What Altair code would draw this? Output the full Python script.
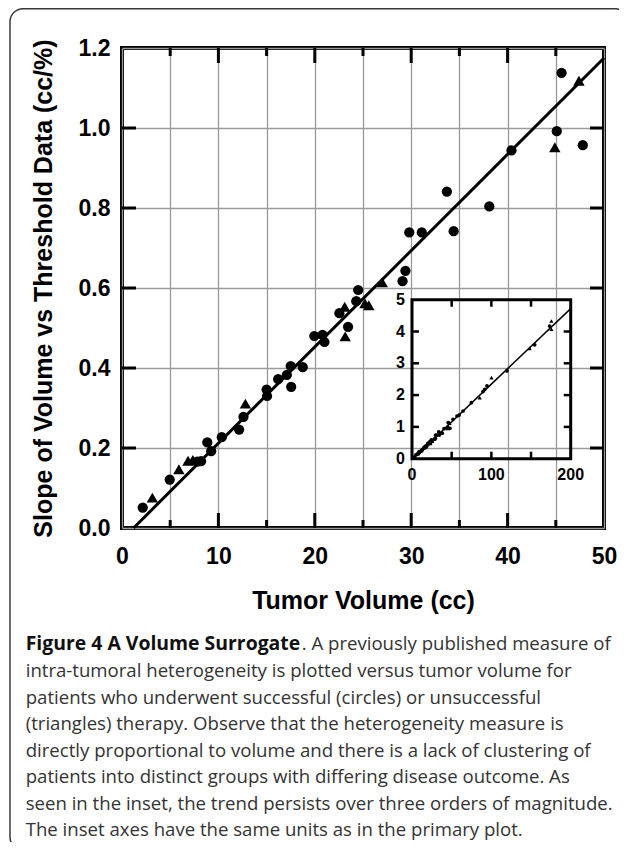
import altair as alt
import pandas as pd

# ---------------- data ----------------
circ_x = [2.15, 4.95, 7.8, 8.2, 8.85, 9.25, 10.35, 12.15, 12.6, 15.0, 15.05, 16.2, 17.1, 17.5,
          17.55, 18.75, 19.95, 20.8, 21.0, 22.55, 23.45, 24.3, 24.5, 29.1, 29.4, 29.8, 31.1,
          33.7, 34.4, 38.1, 40.4, 45.1, 45.6, 47.8]
circ_y = [0.051, 0.121, 0.166, 0.167, 0.214, 0.192, 0.227, 0.246, 0.278, 0.346, 0.330, 0.372,
          0.383, 0.405, 0.353, 0.402, 0.480, 0.483, 0.465, 0.537, 0.503, 0.567, 0.595, 0.617,
          0.643, 0.739, 0.739, 0.841, 0.742, 0.804, 0.944, 0.992, 1.138, 0.957]
tri_x = [3.15, 5.9, 6.85, 7.35, 12.8, 23.1, 23.15, 25.2, 25.6, 27.0, 44.9, 47.4]
tri_y = [0.076, 0.147, 0.168, 0.170, 0.311, 0.553, 0.479, 0.562, 0.557, 0.614, 0.952, 1.118]
fit_x = [1.2, 50.0]
fit_y = [0.0, 1.175]

# extra (large-volume) patients visible only in the inset
ins_circ_x = [51.7, 56.7, 59.2, 64.3, 74.8, 89.5, 91.6, 94.5, 119.7, 154.6, 173.5]
ins_circ_y = [1.24, 1.34, 1.37, 1.50, 1.76, 2.11, 2.18, 2.29, 2.76, 3.58, 4.17]
ins_tri_x = [85.3, 100.1, 148.3, 175.7, 175.7]
ins_tri_y = [1.92, 2.55, 3.47, 4.07, 4.33]
ins_fit_x = [1.2, 200.0]
ins_fit_y = [0.0, 4.72]

# axes
x_dom = [0, 50]
y_dom = [0, 1.2]
x_grid = [0, 5, 10, 15, 20, 25, 30, 35, 40, 45, 50]
x_major = [10, 20, 30, 40]
x_minor = [5, 15, 25, 35, 45]
y_ticks = [0.0, 0.2, 0.4, 0.6, 0.8, 1.0, 1.2]
y_major = [0.2, 0.4, 0.6, 0.8, 1.0]

ins_x_dom = [0, 200]
ins_y_dom = [0, 5]
ins_x_labels = [0, 100, 200]
ins_x_ticks = [50, 100, 150]
ins_y_labels = [0, 1, 2, 3, 4, 5]
ins_y_ticks = [1, 2, 3, 4]

x_title = "Tumor Volume (cc)"
y_title = "Slope of Volume vs Threshold Data (cc/%)"
cap_bold = "Figure 4 A Volume Surrogate"
cap_first_rest = ". A previously published measure of"
cap_lines = [
    "intra-tumoral heterogeneity is plotted versus tumor volume for",
    "patients who underwent successful (circles) or unsuccessful",
    "(triangles) therapy. Observe that the heterogeneity measure is",
    "directly proportional to volume and there is a lack of clustering of",
    "patients into distinct groups with differing disease outcome. As",
    "seen in the inset, the trend persists over three orders of magnitude.",
    "The inset axes have the same units as in the primary plot.",
]

FONT = "Liberation Sans"
CAPFONT = "Open Sans"
W, H = 482, 480

# ---------------- main plot ----------------
xs = alt.Scale(domain=x_dom, nice=False, zero=False)
ys = alt.Scale(domain=y_dom, nice=False, zero=False)

x_axis = alt.Axis(values=x_grid, labelExpr="datum.value % 10 === 0 ? datum.label : ''",
                  grid=True, gridColor="#9a9a9a", gridWidth=1.3, domain=False, ticks=False,
                  tickSize=0, labelFlush=False, labelOverlap=False, labelFont=FONT,
                  labelFontSize=23, labelFontWeight="bold", labelColor="black", labelPadding=17,
                  title=x_title, titleFont=FONT, titleFontSize=25, titleFontWeight="bold",
                  titleColor="black", titleX=W / 2, titleY=80, titleBaseline="alphabetic")
y_axis = alt.Axis(values=y_ticks, format=".1f", grid=True, gridColor="#9a9a9a", gridWidth=1.3,
                  domain=False, ticks=False, tickSize=0, labelOverlap=False, labelFont=FONT,
                  labelFontSize=23, labelFontWeight="bold", labelColor="black", labelPadding=12,
                  title=y_title, titleFont=FONT, titleFontSize=25, titleFontWeight="bold",
                  titleColor="black", titleX=-71, titleY=H / 2, titleAngle=-90,
                  titleBaseline="alphabetic")

X = alt.X("x:Q", scale=xs, axis=x_axis)
Y = alt.Y("y:Q", scale=ys, axis=y_axis)

circ_df = pd.DataFrame({"x": circ_x, "y": circ_y})
tri_df = pd.DataFrame({"x": tri_x, "y": tri_y})
fit_df = pd.DataFrame({"x": fit_x, "y": fit_y})

circles = alt.Chart(circ_df).mark_point(shape="circle", filled=True, size=105, color="black",
                                        opacity=1).encode(x=X, y=Y)
triangles = alt.Chart(tri_df).mark_point(shape="triangle-up", filled=True, size=130,
                                         color="black", opacity=1).encode(x=X, y=Y)
fit = alt.Chart(fit_df).mark_line(color="black", strokeWidth=3).encode(x=X, y=Y)


def vticks(xv, yv, size, off):
    df = pd.DataFrame({"x": xv, "y": [yv] * len(xv)})
    return alt.Chart(df).mark_tick(orient="vertical", size=size, thickness=3, color="black",
                                   opacity=1, yOffset=off).encode(x=X, y=Y)


def hticks(yv, xv, size, off):
    df = pd.DataFrame({"x": [xv] * len(yv), "y": yv})
    return alt.Chart(df).mark_tick(orient="horizontal", size=size, thickness=3, color="black",
                                   opacity=1, xOffset=off).encode(x=X, y=Y)


main_ticks = [
    vticks(x_major, y_dom[1], 15, 7.5), vticks(x_minor, y_dom[1], 8, 4),
    vticks(x_major, y_dom[0], 15, -7.5), vticks(x_minor, y_dom[0], 8, -4),
    hticks(y_major, x_dom[0], 14, 7), hticks(y_major, x_dom[1], 14, -7),
]

# caption & frame (annotation outside the data area)
one = pd.DataFrame({"k": [0]})
border = alt.Chart(one).mark_rect(fillOpacity=0, stroke="#3a3a3a", strokeWidth=1.5,
                                  cornerRadius=13).encode(
    x=alt.value(-112), x2=alt.value(506), y=alt.value(-39.3), y2=alt.value(802))
cap1 = alt.Chart(one).mark_text(align="left", baseline="alphabetic", font=CAPFONT, fontSize=19.4,
                                fontWeight="bold", color="#111111").encode(
    x=alt.value(-96.3), y=alt.value(602.4), text=alt.value(cap_bold))
cap2 = alt.Chart(one).mark_text(align="left", baseline="alphabetic", font=CAPFONT, fontSize=18.6,
                                color="#333333").encode(
    x=alt.value(179.7), y=alt.value(602.4), text=alt.value(cap_first_rest))
cap3 = alt.Chart(one).mark_text(align="left", baseline="alphabetic", font=CAPFONT, fontSize=18.6,
                                lineHeight=26.57, color="#333333").encode(
    x=alt.value(-96.3), y=alt.value(629.0), text=alt.value(cap_lines))

main = alt.layer(fit, circles, triangles, *main_ticks, border, cap1, cap2, cap3)

# ---------------- inset ----------------
ixs = alt.Scale(domain=ins_x_dom, range=[290.0, 448.7], nice=False, zero=False)
iys = alt.Scale(domain=ins_y_dom, range=[410.7, 251.7], nice=False, zero=False)
IX = alt.X("x:Q", scale=ixs, axis=None)
IY = alt.Y("y:Q", scale=iys, axis=None)

ins_c_df = pd.DataFrame({"x": circ_x + ins_circ_x, "y": circ_y + ins_circ_y})
ins_t_df = pd.DataFrame({"x": tri_x + ins_tri_x, "y": tri_y + ins_tri_y})
ins_fit_df = pd.DataFrame({"x": ins_fit_x, "y": ins_fit_y})
frame_df = pd.DataFrame({"x": [ins_x_dom[0]], "x2": [ins_x_dom[1]],
                         "y": [ins_y_dom[0]], "y2": [ins_y_dom[1]]})

ins_frame = alt.Chart(frame_df).mark_rect(fillOpacity=0, stroke="black", strokeWidth=3).encode(
    x=IX, x2="x2:Q", y=IY, y2="y2:Q")
ins_line = alt.Chart(ins_fit_df).mark_line(color="black", strokeWidth=1.5).encode(x=IX, y=IY)
ins_c = alt.Chart(ins_c_df).mark_point(shape="circle", filled=True, size=14, color="black",
                                       opacity=1).encode(x=IX, y=IY)
ins_t = alt.Chart(ins_t_df).mark_point(shape="triangle-up", filled=True, size=18, color="black",
                                       opacity=1).encode(x=IX, y=IY)


def ivt(xv, yv, off):
    df = pd.DataFrame({"x": xv, "y": [yv] * len(xv)})
    return alt.Chart(df).mark_tick(orient="vertical", size=7, thickness=2.5, color="black",
                                   opacity=1, yOffset=off).encode(x=IX, y=IY)


def iht(yv, xv, off):
    df = pd.DataFrame({"x": [xv] * len(yv), "y": yv})
    return alt.Chart(df).mark_tick(orient="horizontal", size=7, thickness=2.5, color="black",
                                   opacity=1, xOffset=off).encode(x=IX, y=IY)


ins_ticks = [ivt(ins_x_ticks, ins_y_dom[1], 3.5), ivt(ins_x_ticks, ins_y_dom[0], -3.5),
             iht(ins_y_ticks, ins_x_dom[0], 3.5), iht(ins_y_ticks, ins_x_dom[1], -3.5)]

xl_df = pd.DataFrame({"x": ins_x_labels, "y": [ins_y_dom[0]] * len(ins_x_labels)})
yl_df = pd.DataFrame({"x": [ins_x_dom[0]] * len(ins_y_labels), "y": ins_y_labels})
ins_xl = alt.Chart(xl_df).mark_text(font=FONT, fontSize=16, fontWeight="bold", color="black",
                                    baseline="top", dy=8).encode(x=IX, y=IY, text="x:Q")
ins_yl = alt.Chart(yl_df).mark_text(font=FONT, fontSize=16, fontWeight="bold", color="black",
                                    align="right", baseline="middle", dx=-7).encode(
    x=IX, y=IY, text="y:Q")

inset = alt.layer(ins_line, ins_c, ins_t, ins_frame, *ins_ticks, ins_xl, ins_yl)

chart = alt.layer(main, inset).resolve_scale(x="independent", y="independent").properties(
    width=W, height=H,
    padding={"left": 114, "top": 40, "right": 15, "bottom": 314},
    autosize=alt.AutoSizeParams(type="none"),
    background="white",
).configure_view(stroke="black", strokeWidth=4)

chart.save("out.html", embed_options={"renderer": "svg", "actions": False})
